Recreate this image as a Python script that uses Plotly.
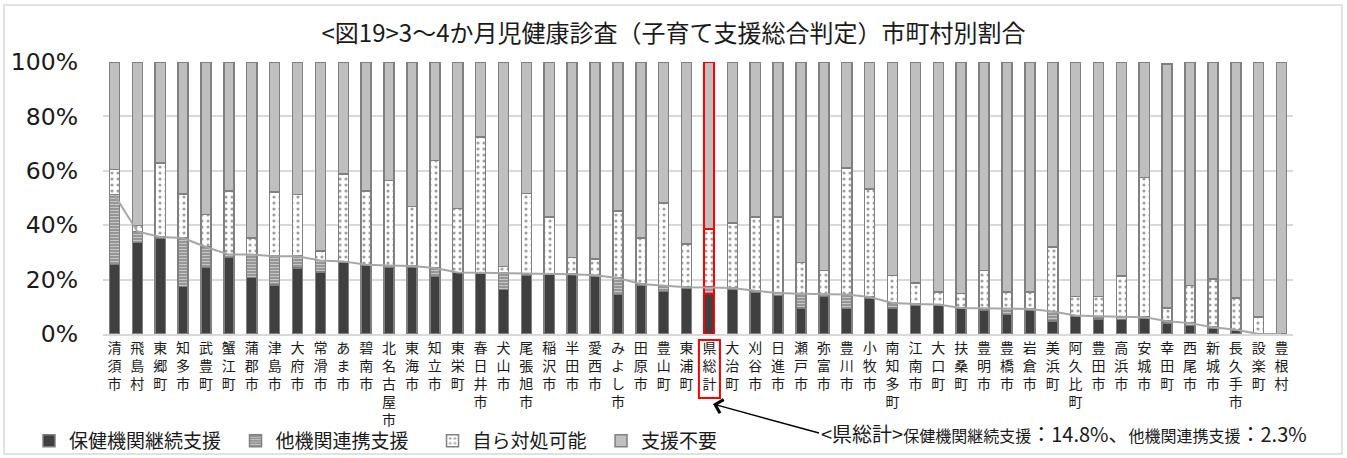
import plotly.graph_objects as go

names = ["清須市", "飛島村", "東郷町", "知多市", "武豊町", "蟹江町", "蒲郡市", "津島市", "大府市", "常滑市",
         "あま市", "碧南市", "北名古屋市", "東海市", "知立市", "東栄町", "春日井市", "犬山市", "尾張旭市", "稲沢市",
         "半田市", "愛西市", "みよし市", "田原市", "豊山町", "東浦町", "県総計", "大治町", "刈谷市", "日進市",
         "瀬戸市", "弥富市", "豊川市", "小牧市", "南知多町", "江南市", "大口町", "扶桑町", "豊明市", "豊橋市",
         "岩倉市", "美浜町", "阿久比町", "豊田市", "高浜市", "安城市", "幸田町", "西尾市", "新城市", "長久手市",
         "設楽町", "豊根村"]

hoken = [25.5, 33.7, 35.3, 17.5, 24.5, 28.2, 20.8, 18.1, 24.3, 22.8, 26.3, 25.2, 24.5, 24.5, 21.2, 22.6, 22.2,
         16.3, 21.7, 21.8, 21.8, 21.2, 14.5, 18.1, 15.7, 16.8, 14.8, 16.5, 15.4, 14.2, 9.6, 13.8, 9.3, 13.2, 9.6,
         10.5, 10.4, 9.3, 8.9, 7.1, 8.9, 4.7, 6.7, 5.5, 5.3, 5.9, 4.0, 3.2, 2.2, 1.2, 0.0, 0.0]
takikan = [25.7, 4.0, 0.4, 17.8, 7.5, 1.0, 8.4, 10.5, 4.3, 4.2, 0.4, 0.3, 0.7, 0.5, 3.1, 0.0, 0.3, 6.1, 0.5,
           0.3, 0.2, 0.4, 6.1, 0.3, 2.1, 0.4, 2.3, 0.4, 0.5, 0.9, 5.2, 0.8, 5.2, 0.4, 1.8, 0.5, 0.4, 0.3, 0.5,
           2.2, 0.3, 3.6, 0.1, 1.0, 1.0, 0.3, 0.7, 0.8, 0.3, 0.4, 0.0, 0.0]
mizukara = [9.2, 2.1, 27.2, 16.2, 11.9, 23.3, 6.1, 23.6, 22.6, 3.6, 32.2, 27.0, 31.2, 21.9, 39.4, 23.5, 49.9,
            2.5, 29.4, 20.9, 6.2, 6.0, 24.7, 16.9, 30.4, 15.9, 21.5, 23.9, 27.1, 27.9, 11.5, 8.7, 46.5, 39.8,
            10.2, 7.8, 4.6, 5.2, 13.9, 6.1, 6.2, 23.7, 7.0, 7.3, 15.1, 51.4, 4.9, 13.8, 17.8, 11.6, 6.2, 0.0]
fuyou = [39.6, 60.2, 37.1, 48.5, 56.1, 47.5, 64.7, 47.8, 48.8, 69.4, 41.1, 47.5, 43.6, 53.1, 36.3, 53.9, 27.6,
         75.1, 48.4, 57.0, 71.8, 72.4, 54.7, 64.7, 51.8, 66.9, 61.4, 59.2, 57.0, 57.0, 73.7, 76.7, 39.0, 46.6,
         78.4, 81.2, 84.6, 85.2, 76.7, 84.6, 84.6, 68.0, 86.2, 86.2, 78.6, 42.4, 89.7, 82.2, 79.7, 86.8, 93.8, 100.0]

series_names = ["保健機関継続支援", "他機関連携支援", "自ら対処可能", "支援不要"]
y_ticks = [0, 20, 40, 60, 80, 100]
y_ticklabels = ["0%", "20%", "40%", "60%", "80%", "100%"]

title_text = "&lt;図19&gt;3～4か月児健康診査（子育て支援総合判定）市町村別割合"
note_text = ("&lt;県総計&gt;<span style='font-size:16px'>保健機関継続支援</span>：14.8%、"
             "<span style='font-size:16px'>他機関連携支援</span>：2.3%")

highlight = "県総計"
W, H = 1347, 458
L, R, T, B = 103, 54, 62, 124
PW, PH = W - L - R, H - T - B

JP = "Noto Sans CJK JP"
# trailing spaces that widen the legend entries
PADS = ["\u2002", "\u2003", "\u2002", ""]
outline = ["#ff0000" if n == highlight else "#808080" for n in names]
owidth = [2 if n == highlight else 1.5 for n in names]

fig = go.Figure()
fig.add_bar(x=names, y=hoken, name=series_names[0] + PADS[0],
            marker=dict(color="#404040", line=dict(color=outline, width=owidth)))
fig.add_bar(x=names, y=takikan, name=series_names[1] + PADS[1],
            marker=dict(color="#8c8c8c", line=dict(color=outline, width=owidth),
                        pattern=dict(shape="-", fgcolor="#ffffff", bgcolor="#8c8c8c", size=3, solidity=0.45)))
fig.add_bar(x=names, y=mizukara, name=series_names[2] + PADS[2],
            marker=dict(color="#ffffff", line=dict(color=outline, width=owidth),
                        pattern=dict(shape=".", fgcolor="#404040", bgcolor="#ffffff", size=6, solidity=0.22)))
fig.add_bar(x=names, y=fuyou, name=series_names[3] + PADS[3],
            marker=dict(color="#bfbfbf", line=dict(color=outline, width=owidth)))

combined = [a + b for a, b in zip(hoken, takikan)]
fig.add_scatter(x=names, y=combined, mode="lines", line=dict(color="#a6a6a6", width=2),
                showlegend=False, hoverinfo="skip")


def px_x(X):
    return (X - L) / PW


def px_y(Y):
    return (H - B - Y) / PH


idx = names.index(highlight)
shapes = [
    dict(type="rect", xref="x", yref="paper", x0=idx - 0.46, x1=idx + 0.46,
         y0=px_y(398), y1=px_y(340), line=dict(color="#ff0000", width=2)),
    dict(type="rect", xref="paper", yref="paper", x0=px_x(4), x1=px_x(1342),
         y0=px_y(454), y1=px_y(5), line=dict(color="#d9d9d9", width=1.5)),
]

fig.update_layout(
    width=W, height=H,
    margin=dict(l=L, r=R, t=T, b=B, autoexpand=False),
    paper_bgcolor="white", plot_bgcolor="white",
    barmode="stack", bargap=0.56,
    font=dict(family=JP, color="#1a1a1a"),
    title=dict(text=title_text, x=0.5, xanchor="center", y=1 - 34 / H, yanchor="middle",
               font=dict(family=JP, size=24, color="#1a1a1a"), automargin=False),
    legend=dict(orientation="h", xref="container", yref="container", x=29 / W, xanchor="left",
                y=(H - 441) / H, yanchor="middle", font=dict(family=JP, size=19, color="#1a1a1a"),
                traceorder="normal", itemwidth=30, bgcolor="rgba(0,0,0,0)"),
    shapes=shapes,
    annotations=[dict(text=note_text, xref="paper", yref="paper", x=px_x(713), y=px_y(404),
                      showarrow=True, arrowhead=4, arrowsize=1.8, arrowwidth=1.5, arrowcolor="#000000",
                      axref="pixel", ayref="pixel", ax=106, ay=29, xanchor="left", yanchor="middle",
                      font=dict(family=JP, size=20, color="#1a1a1a"))],
)
fig.update_xaxes(tickmode="array", tickvals=names, ticktext=["<br>".join(list(n)) for n in names],
                 tickfont=dict(family=JP, size=14, color="#1a1a1a"), tickangle=0, automargin=False,
                 showline=True, linecolor="#d9d9d9", linewidth=1.5, showgrid=False)
fig.update_yaxes(range=[0, 100], tickvals=y_ticks, ticktext=y_ticklabels, automargin=False,
                 tickfont=dict(family="DejaVu Sans", size=23.5, color="#1a1a1a"),
                 showgrid=True, gridcolor="#d9d9d9", gridwidth=1.5, zeroline=False,
                 ticklabelstandoff=24)

fig.write_html("out.html")
